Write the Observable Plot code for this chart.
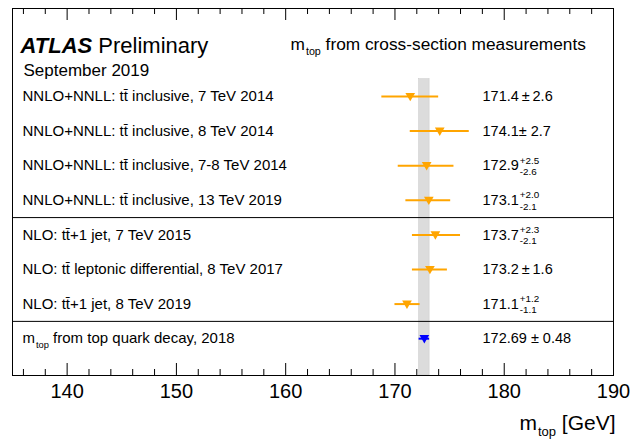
<!DOCTYPE html>
<html>
<head>
<meta charset="utf-8">
<script src="https://cdn.jsdelivr.net/npm/d3@7"></script>
<script src="https://cdn.jsdelivr.net/npm/@observablehq/plot@0.6"></script>
<style>
  html, body { margin: 0; padding: 0; background: white; }
  svg text { font-family: "Liberation Sans", Arial, Helvetica, sans-serif; }
</style>
</head>
<body>
<div id="chart"></div>
<script>
// ---- data ----
const labels = [
  "NNLO+NNLL: tt\u0304 inclusive, 7 TeV 2014",
  "NNLO+NNLL: tt\u0304 inclusive, 8 TeV 2014",
  "NNLO+NNLL: tt\u0304 inclusive, 7-8 TeV 2014",
  "NNLO+NNLL: tt\u0304 inclusive, 13 TeV 2019",
  "NLO: tt\u0304+1 jet, 7 TeV 2015",
  "NLO: tt\u0304 leptonic differential, 8 TeV 2017",
  "NLO: tt\u0304+1 jet, 8 TeV 2019",
  "m_{top} from top quark decay, 2018"
];
const central = [171.4, 174.1, 172.9, 173.1, 173.7, 173.2, 171.1, 172.69];
const errUp   = [2.6, 2.7, 2.5, 2.0, 2.3, 1.6, 1.2, 0.48];
const errDown = [2.6, 2.7, 2.6, 2.1, 2.1, 1.6, 1.1, 0.48];
const valueTexts = [
  "171.4\u2009±\u20092.6",
  "174.1± 2.7",
  "172.9^{+2.5}_{-2.6}",
  "173.1^{+2.0}_{-2.1}",
  "173.7^{+2.3}_{-2.1}",
  "173.2\u2009±\u20091.6",
  "171.1^{+1.2}_{-1.1}",
  "172.69 ± 0.48"
];
const colors = ["#FFA500","#FFA500","#FFA500","#FFA500","#FFA500","#FFA500","#FFA500","#0000FF"];
const groupSeparators = [4.5, 7.5];     // boundaries between groups of rows
const worldAverage = {c: 172.69, e: 0.48};
const majorTicks = [140, 150, 160, 170, 180, 190];
const minorTicks = d3.range(136, 190, 2).filter(v => v % 10 !== 0);
const xDomain = [135, 190];

const rows = labels.map((label, i) => ({
  row: i + 1, label, c: central[i], hi: errUp[i], lo: errDown[i],
  vt: valueTexts[i], color: colors[i]
}));

const marginTop = 8, marginBottom = 65, marginLeft = 12, marginRight = 26;
const H = 440, W = 639;
const frameH = H - marginTop - marginBottom;

const plot = Plot.plot({
  width: W, height: H,
  marginTop, marginBottom, marginLeft, marginRight,
  x: {domain: xDomain, axis: null},
  y: {domain: [-1.543, 9.064], reverse: true, axis: null},
  color: {type: "identity"},
  style: {fontFamily: "'Liberation Sans', Arial, Helvetica, sans-serif", color: "black", background: "white", overflow: "visible"},
  marks: [
    // world-average band
    Plot.rect([worldAverage], {x1: d => d.c - d.e, x2: d => d.c + d.e, y1: 0.5, y2: 9.064, fill: "#dcdcdc", stroke: "#c8c8c8", strokeWidth: 0.5}),
    // group separators
    Plot.ruleY(groupSeparators, {stroke: "black", strokeWidth: 1}),
    // error bars
    Plot.ruleY(rows, {y: "row", x1: d => d.c - d.lo, x2: d => d.c + d.hi, stroke: "color", strokeWidth: 2}),
    // markers (down-pointing triangles)
    Plot.dot(rows, {x: "c", y: "row", symbol: "triangle", rotate: 180, r: 3.6, fill: "color", stroke: null, dy: -0.8}),
    // row labels
    Plot.text(rows, {y: "row", text: "label", frameAnchor: "left", dx: 10, textAnchor: "start", fontSize: 15}),
    // value labels
    Plot.text(rows, {y: "row", text: "vt", frameAnchor: "right", dx: -131, textAnchor: "start", fontSize: 14.5}),
    // frame
    Plot.frame({stroke: "black", strokeWidth: 1}),
    // inward ticks, bottom and top
    Plot.tickX(majorTicks, {x: d => d, insetTop: frameH - 12, stroke: "black"}),
    Plot.tickX(minorTicks, {x: d => d, insetTop: frameH - 6, stroke: "black"}),
    Plot.tickX(majorTicks, {x: d => d, insetBottom: frameH - 12, stroke: "black"}),
    Plot.tickX(minorTicks, {x: d => d, insetBottom: frameH - 6, stroke: "black"}),
    // tick labels
    Plot.axisX({ticks: majorTicks, tickSize: 0, tickPadding: 8, fontSize: 20, label: null}),
    // axis title
    Plot.text(["m_{top} [GeV]"], {frameAnchor: "bottom-right", textAnchor: "end", lineAnchor: "bottom", dx: 2, dy: 54, fontSize: 21}),
    // header texts
    Plot.text(["**ATLAS** Preliminary"], {frameAnchor: "top-left", textAnchor: "start", lineAnchor: "bottom", dx: 8, dy: 44, fontSize: 22}),
    Plot.text(["September 2019"], {frameAnchor: "top-left", textAnchor: "start", lineAnchor: "bottom", dx: 11, dy: 67, fontSize: 17}),
    Plot.text(["m_{top} from cross-section measurements"], {frameAnchor: "top-left", textAnchor: "start", lineAnchor: "bottom", dx: 278, dy: 41, fontSize: 17.3})
  ]
});

document.getElementById("chart").appendChild(plot);

// turn simple markup (**bold-italic**, _{sub}, ^{sup}_{sub}) into tspans
function richify(el) {
  const s = el.textContent;
  if (!/\*\*|[\^_]\{/.test(s)) return;
  const fs = parseFloat(getComputedStyle(el).fontSize) || 14;
  while (el.firstChild) el.removeChild(el.firstChild);
  const ns = "http://www.w3.org/2000/svg";
  let base = 0, pendingDx = 0;
  const mk = (txt, attrs) => {
    const t = document.createElementNS(ns, "tspan");
    t.textContent = txt;
    let dx = (attrs.dx || 0) + pendingDx; pendingDx = 0;
    if (dx) t.setAttribute("dx", dx);
    for (const k in attrs) if (k !== "dx") t.setAttribute(k, attrs[k]);
    el.appendChild(t);
    return t;
  };
  const re = /\*\*([^*]+)\*\*|\^\{([^}]*)\}_\{([^}]*)\}|_\{([^}]*)\}|\^\{([^}]*)\}|([^*^_]+)/g;
  let m;
  while ((m = re.exec(s))) {
    if (m[1] !== undefined) {
      mk(m[1], {dy: -base, "font-weight": "bold", "font-style": "italic"}); base = 0;
    } else if (m[2] !== undefined) {
      const sup = mk(m[2], {dx: 1, dy: -0.45 * fs - base, "font-size": 0.68 * fs}); base = -0.45 * fs;
      const w1 = sup.getComputedTextLength();
      const sub = mk(m[3], {dx: -w1, dy: 0.32 * fs - base, "font-size": 0.68 * fs}); base = 0.32 * fs;
      const w2 = sub.getComputedTextLength();
      if (w1 > w2) pendingDx = w1 - w2;
    } else if (m[4] !== undefined) {
      mk(m[4], {dx: 1, dy: 0.3 * fs - base, "font-size": 0.62 * fs}); base = 0.3 * fs;
    } else if (m[5] !== undefined) {
      mk(m[5], {dy: -0.42 * fs - base, "font-size": 0.62 * fs}); base = -0.42 * fs;
    } else if (m[6] !== undefined) {
      mk(m[6], {dy: -base}); base = 0;
    }
  }
}
plot.querySelectorAll("text").forEach(richify);
</script>
</body>
</html>
